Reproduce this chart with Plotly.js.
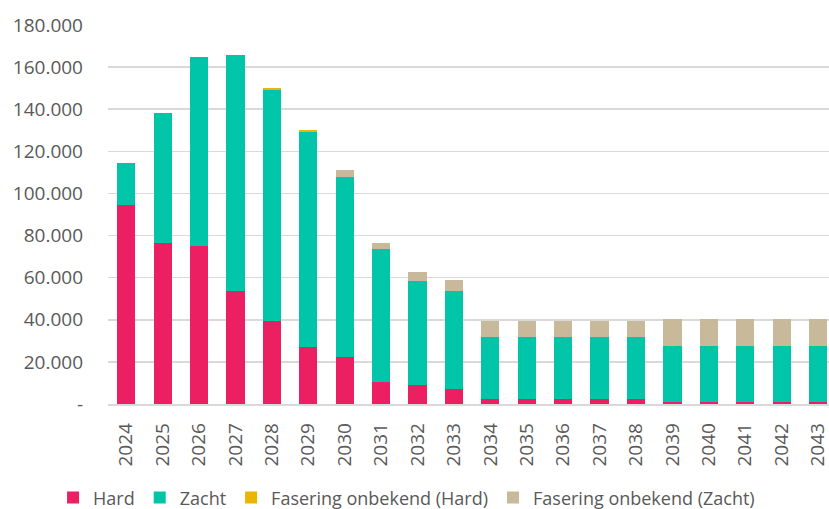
<!DOCTYPE html>
<html><head><meta charset="utf-8">
<script src="https://cdn.plot.ly/plotly-3.0.1.min.js"></script>
<style>html,body{margin:0;padding:0;background:#fff;}#chart{width:829px;height:509px;}</style>
</head><body><div id="chart"></div>
<script>
const years = ['2024','2025','2026','2027','2028','2029','2030','2031','2032','2033','2034','2035','2036','2037','2038','2039','2040','2041','2042','2043'];
const hard = [94500,76500,75000,53700,39400,27000,22300,10600,9200,7300,2400,2400,2400,2400,2400,1100,1100,1100,1100,1100];
const zacht = [19800,61500,89700,112200,109900,102300,85700,63000,49200,46400,29600,29600,29600,29600,29600,26600,26600,26600,26600,26600];
const fasHard = [0,0,0,0,800,800,0,0,0,0,0,0,0,0,0,0,0,0,0,0];
const fasZacht = [0,0,0,0,0,0,3000,3000,4400,5000,7600,7600,7600,7600,7600,12700,12700,12700,12700,12700];
const yTickVals = [0,20000,40000,60000,80000,100000,120000,140000,160000,180000];
const yTickText = ['-','20.000','40.000','60.000','80.000','100.000','120.000','140.000','160.000','180.000'];

const names = ['Hard','Zacht','Fasering onbekend (Hard)','Fasering onbekend (Zacht)'];
const colors = ['#ED1F63','#00C5A8','#E9B500','#C8B99B'];
const series = [hard, zacht, fasHard, fasZacht];
const traces = series.map((s,i)=>({type:'bar', x:years, y:s, name:names[i], marker:{color:colors[i], line:{width:0}}, hoverinfo:'x+y'}));

const layout = {
  width:829, height:509, barmode:'stack', bargap:0.5,
  margin:{l:108, r:0, t:25, b:105},
  paper_bgcolor:'#fff', plot_bgcolor:'#fff',
  font:{family:'Open Sans, sans-serif', color:'#595959'},
  xaxis:{type:'category', range:[-0.5,19.3], tickangle:-90, tickfont:{size:19, color:'#595959'}, automargin:false,
         showline:true, linecolor:'#D9D9D9', linewidth:1.5, ticks:'', showgrid:false, ticklabelstandoff:10},
  yaxis:{range:[0,180000], tickvals:yTickVals, ticktext:yTickText, tickfont:{size:19, color:'#595959'}, automargin:false,
         showgrid:true, gridcolor:'#D9D9D9', gridwidth:1.5, zeroline:false, ticks:'', ticklabelstandoff:24},
  legend:{orientation:'h', xref:'container', x:0.064, xanchor:'left', yref:'container', y:0.022, yanchor:'middle',
          font:{family:'Open Sans, sans-serif', size:18, color:'#595959'}, traceorder:'normal', itemgap:22},
  showlegend:true
};
Plotly.newPlot('chart', traces, layout, {displayModeBar:false, staticPlot:true});
</script></body></html>
